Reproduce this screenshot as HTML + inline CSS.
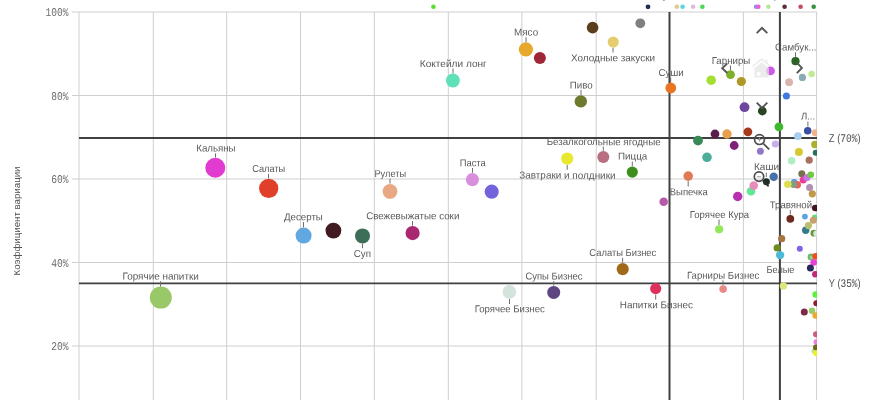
<!DOCTYPE html>
<html lang="ru"><head><meta charset="utf-8"><title>Scatter</title>
<style>html,body{margin:0;padding:0;background:#fff;overflow:hidden}svg{display:block;will-change:transform}.lb{font-family:"Liberation Sans","DejaVu Sans",sans-serif;font-size:10px;fill:#595959}.ax{font-family:"Liberation Mono","DejaVu Sans Mono",monospace;font-size:11.8px;fill:#6a6a6a}.mono{font-family:"Liberation Mono","DejaVu Sans Mono",monospace}</style></head><body>
<svg width="870" height="400" viewBox="0 0 870 400">
<rect width="870" height="400" fill="#fff"/>
<defs><clipPath id="cp"><rect x="79" y="0" width="738" height="400"/></clipPath></defs>
<g stroke="#cfcfcf" stroke-width="1">
<line x1="72" x2="817" y1="12.0" y2="12.0"/>
<line x1="72" x2="817" y1="95.5" y2="95.5"/>
<line x1="72" x2="817" y1="179.0" y2="179.0"/>
<line x1="72" x2="817" y1="262.5" y2="262.5"/>
<line x1="72" x2="817" y1="346.0" y2="346.0"/>
<line x1="153.3" x2="153.3" y1="12" y2="400"/>
<line x1="226.7" x2="226.7" y1="12" y2="400"/>
<line x1="300.5" x2="300.5" y1="12" y2="400"/>
<line x1="374.3" x2="374.3" y1="12" y2="400"/>
<line x1="448.3" x2="448.3" y1="12" y2="400"/>
<line x1="521.9" x2="521.9" y1="12" y2="400"/>
<line x1="596.2" x2="596.2" y1="12" y2="400"/>
<line x1="743.4" x2="743.4" y1="12" y2="400"/>
<line x1="79" x2="79" y1="12" y2="400"/>
<line x1="816.6" x2="816.6" y1="12" y2="400"/>
</g>
<text class="ax" transform="translate(45.60,16.30) rotate(0.03)" textLength="23.0" lengthAdjust="spacingAndGlyphs">100%</text>
<text class="ax" transform="translate(51.30,99.80) rotate(0.03)" textLength="17.3" lengthAdjust="spacingAndGlyphs">80%</text>
<text class="ax" transform="translate(51.30,183.30) rotate(0.03)" textLength="17.3" lengthAdjust="spacingAndGlyphs">60%</text>
<text class="ax" transform="translate(51.30,266.80) rotate(0.03)" textLength="17.3" lengthAdjust="spacingAndGlyphs">40%</text>
<text class="ax" transform="translate(51.30,350.30) rotate(0.03)" textLength="17.3" lengthAdjust="spacingAndGlyphs">20%</text>
<text class="lb" style="font-size:9.6px;fill:#505050" transform="translate(20.1,275.5) rotate(-90)" textLength="109" lengthAdjust="spacingAndGlyphs">Коэффициент вариации</text>
<rect x="663.2" y="0" width="1.4" height="0.7" fill="#595959"/><rect x="774.2" y="0" width="1.2" height="0.6" fill="#6a6a6a"/>
<circle cx="433.4" cy="6.8" r="2.3" fill="#5ae02e"/>
<circle cx="648" cy="6.8" r="2.4" fill="#1e2e50"/>
<circle cx="676.8" cy="6.8" r="2.3" fill="#e0cc8a"/>
<circle cx="682.6" cy="6.8" r="2.3" fill="#5cd6dc"/>
<circle cx="693.1" cy="6.8" r="2.3" fill="#e0b8dc"/>
<circle cx="702.4" cy="6.8" r="2.3" fill="#4cd855"/>
<circle cx="756.1" cy="6.8" r="2.3" fill="#9a8ae8"/>
<circle cx="758.3" cy="6.8" r="2.3" fill="#e860d8"/>
<circle cx="768.4" cy="6.8" r="2.3" fill="#b4e89a"/>
<circle cx="784.6" cy="6.8" r="2.3" fill="#5a3038"/>
<circle cx="800.6" cy="6.8" r="2.3" fill="#c84a6a"/>
<circle cx="813.7" cy="6.8" r="2.3" fill="#3a9040"/>
<g stroke="#404040">
<line x1="79" x2="817" y1="138" y2="138" stroke-width="2"/>
<line x1="79" x2="817" y1="283.4" y2="283.4" stroke-width="1.6"/>
<line x1="669.5" x2="669.5" y1="12" y2="400" stroke-width="2"/>
<line x1="779.9" x2="779.9" y1="12" y2="400" stroke-width="2"/>
</g>
<g clip-path="url(#cp)">
<circle cx="215.3" cy="167.8" r="10" fill="#e23bcf"/>
<circle cx="268.7" cy="188.4" r="9.6" fill="#e0402a"/>
<circle cx="160.8" cy="297.6" r="11" fill="#98c867"/>
<circle cx="452.9" cy="80.5" r="6.9" fill="#5ee0b8"/>
<circle cx="525.9" cy="49.4" r="7.1" fill="#e8a82c"/>
<circle cx="539.9" cy="57.9" r="6" fill="#9e2636"/>
<circle cx="592.6" cy="27.6" r="5.8" fill="#5a3e1e"/>
<circle cx="640.3" cy="23.3" r="4.9" fill="#808080"/>
<circle cx="613.2" cy="42.1" r="5.6" fill="#e6cc6e"/>
<circle cx="580.8" cy="101.4" r="6.2" fill="#6e7a2e"/>
<circle cx="670.8" cy="88" r="5.4" fill="#e87424"/>
<circle cx="730.5" cy="74.7" r="4.4" fill="#7eb02a"/>
<circle cx="711.2" cy="80.2" r="4.8" fill="#a4e030"/>
<circle cx="741.3" cy="81.5" r="4.6" fill="#b09828"/>
<circle cx="390" cy="191.4" r="7.4" fill="#e8a884"/>
<circle cx="472.4" cy="179.6" r="6.6" fill="#d890dc"/>
<circle cx="491.7" cy="191.7" r="7.1" fill="#7464dc"/>
<circle cx="303.6" cy="235.6" r="8" fill="#62a8e0"/>
<circle cx="333.4" cy="230.6" r="7.9" fill="#421a22"/>
<circle cx="362.5" cy="235.9" r="7.5" fill="#3c6e58"/>
<circle cx="412.6" cy="233.1" r="7.1" fill="#aa2870"/>
<circle cx="509.4" cy="291.9" r="6.8" fill="#d2e4dc"/>
<circle cx="553.7" cy="292.4" r="6.5" fill="#5e4682"/>
<circle cx="622.7" cy="269.1" r="6.1" fill="#a06a1a"/>
<circle cx="655.7" cy="288.6" r="5.6" fill="#e0305e"/>
<circle cx="603.3" cy="157.1" r="6" fill="#b87080"/>
<circle cx="567.2" cy="158.6" r="6.1" fill="#e8e82e"/>
<circle cx="632.3" cy="172.1" r="5.6" fill="#3e8e1e"/>
<circle cx="688.2" cy="176.1" r="4.8" fill="#e07a54"/>
<circle cx="663.7" cy="201.7" r="4.3" fill="#b858a8"/>
<circle cx="698" cy="140.6" r="4.9" fill="#3a8a58"/>
<circle cx="707" cy="157.3" r="4.8" fill="#4cae9a"/>
<circle cx="715" cy="134" r="4.4" fill="#5a1e4e"/>
<circle cx="727" cy="134" r="4.7" fill="#e8a04e"/>
<circle cx="747.9" cy="131.8" r="4.4" fill="#a83a1c"/>
<circle cx="734.2" cy="145.5" r="4.4" fill="#7e2278"/>
<circle cx="775.4" cy="144" r="3.6" fill="#c4b0ec"/>
<circle cx="760.4" cy="151.2" r="3.5" fill="#9078c8"/>
<circle cx="744.5" cy="107.2" r="4.9" fill="#6e46a0"/>
<circle cx="762.3" cy="111" r="4.4" fill="#2a4420"/>
<circle cx="778.9" cy="126.8" r="4.4" fill="#3eb82e"/>
<circle cx="770.5" cy="70.9" r="4.4" fill="#cc5ae6"/>
<circle cx="795.5" cy="61.2" r="4.1" fill="#2a6422"/>
<circle cx="789.1" cy="82.2" r="3.9" fill="#dab4ae"/>
<circle cx="802.4" cy="77.4" r="3.6" fill="#8aaab4"/>
<circle cx="811.6" cy="74" r="3.2" fill="#c0ec90"/>
<circle cx="786.4" cy="95.9" r="3.5" fill="#3e78e0"/>
<circle cx="807.7" cy="130.7" r="3.8" fill="#3a50a0"/>
<circle cx="815.3" cy="132.8" r="3.5" fill="#f0b48c"/>
<circle cx="797.9" cy="136.1" r="3.9" fill="#a8cef0"/>
<circle cx="798.9" cy="152" r="4" fill="#d8c830"/>
<circle cx="814.9" cy="144.5" r="3.7" fill="#a8b030"/>
<circle cx="815.7" cy="152.8" r="3" fill="#2e6e5c"/>
<circle cx="791.6" cy="160.8" r="3.8" fill="#b0ecc4"/>
<circle cx="809.2" cy="160.2" r="3.6" fill="#a87060"/>
<circle cx="801.8" cy="173.7" r="3.5" fill="#78704a"/>
<circle cx="803.2" cy="179.9" r="3.5" fill="#e8409a"/>
<circle cx="807" cy="177.5" r="3.5" fill="#c478e8"/>
<circle cx="810.8" cy="174.8" r="3.3" fill="#6ecc3c"/>
<circle cx="773.7" cy="176.8" r="4.2" fill="#4672a8"/>
<circle cx="766.4" cy="181.7" r="3.5" fill="#1e2e26"/>
<circle cx="751" cy="191.2" r="4.3" fill="#62e894"/>
<circle cx="753.7" cy="185.6" r="4.3" fill="#e88cbc"/>
<circle cx="737.7" cy="196.5" r="4.7" fill="#b630b0"/>
<circle cx="794.2" cy="182.2" r="3.2" fill="#5a9ae0"/>
<circle cx="797.2" cy="184.8" r="3.8" fill="#e8605a"/>
<circle cx="793.6" cy="184.6" r="3.5" fill="#7ea080"/>
<circle cx="787.8" cy="184.2" r="3.8" fill="#dce04e"/>
<circle cx="809.6" cy="187.5" r="3.5" fill="#b090b8"/>
<circle cx="812.3" cy="193.8" r="3.6" fill="#c09a4a"/>
<circle cx="815.3" cy="208" r="3.3" fill="#3e1420"/>
<circle cx="790.3" cy="218.8" r="3.9" fill="#6e2a1c"/>
<circle cx="804.9" cy="216.6" r="2.9" fill="#5aa4e0"/>
<circle cx="815" cy="217.8" r="3.2" fill="#60d880"/>
<circle cx="813.3" cy="220.3" r="3.5" fill="#c8a070"/>
<circle cx="805.7" cy="230.3" r="3.7" fill="#357a88"/>
<circle cx="808.4" cy="225.6" r="3.6" fill="#b8c070"/>
<circle cx="813.9" cy="233.2" r="3.4" fill="#6a9a3a"/>
<circle cx="816.3" cy="233.4" r="3" fill="#d8e8e0"/>
<circle cx="719.1" cy="229.3" r="4.1" fill="#92e858"/>
<circle cx="781.7" cy="238.7" r="3.6" fill="#a87440"/>
<circle cx="777.2" cy="247.9" r="3.6" fill="#6e8a1e"/>
<circle cx="780.1" cy="255.1" r="4.2" fill="#4cbad4"/>
<circle cx="799.8" cy="248.7" r="3" fill="#7e62e8"/>
<circle cx="811" cy="257" r="3.4" fill="#6ab868"/>
<circle cx="811.5" cy="257.5" r="1.8" fill="#9ad89a"/>
<circle cx="815.7" cy="256.3" r="3.4" fill="#f05020"/>
<circle cx="813.7" cy="262.5" r="3.3" fill="#e840d8"/>
<circle cx="810.4" cy="268" r="3.5" fill="#2a2a5c"/>
<circle cx="815.3" cy="274.2" r="3.2" fill="#c02a7a"/>
<circle cx="723.1" cy="289.1" r="3.8" fill="#e88a84"/>
<circle cx="783.4" cy="286" r="3.7" fill="#dce67a"/>
<circle cx="815.7" cy="294.5" r="3.3" fill="#5cf03c"/>
<circle cx="816.3" cy="303.3" r="3" fill="#8e1e30"/>
<circle cx="804.3" cy="311.9" r="3.5" fill="#80284a"/>
<circle cx="812" cy="310.8" r="3.3" fill="#9acc6a"/>
<circle cx="815.7" cy="315.5" r="3.3" fill="#f0a830"/>
<circle cx="816" cy="334.3" r="3" fill="#c8607a"/>
<circle cx="816.3" cy="342.1" r="2.8" fill="#e880e0"/>
<circle cx="814.5" cy="351" r="3" fill="#b8e0a0"/>
<circle cx="816" cy="347.4" r="3" fill="#6e6a1e"/>
<circle cx="816.2" cy="353.3" r="3" fill="#f0f020"/>
</g>
<g stroke="#6e6e6e" stroke-width="1">
<line x1="215.5" x2="215.5" y1="153.3" y2="157.5"/>
<line x1="268.5" x2="268.5" y1="173.9" y2="178.3"/>
<line x1="160.5" x2="160.5" y1="281.3" y2="286.5"/>
<line x1="453" x2="453" y1="68.5" y2="73.3"/>
<line x1="526" x2="526" y1="37.3" y2="42"/>
<line x1="613" x2="613" y1="48" y2="52.5"/>
<line x1="581" x2="581" y1="90" y2="95"/>
<line x1="670.7" x2="670.7" y1="77.5" y2="82.4"/>
<line x1="730.5" x2="730.5" y1="65.5" y2="70"/>
<line x1="795.5" x2="795.5" y1="52.3" y2="56.9"/>
<line x1="807.9" x2="807.9" y1="121.5" y2="126.6"/>
<line x1="766.3" x2="766.3" y1="172.6" y2="177"/>
<line x1="790.3" x2="790.3" y1="210" y2="214.6"/>
<line x1="719" x2="719" y1="219.6" y2="225"/>
<line x1="723" x2="723" y1="280.3" y2="285"/>
<line x1="390" x2="390" y1="178.7" y2="183.6"/>
<line x1="472.5" x2="472.5" y1="168" y2="172.7"/>
<line x1="412.5" x2="412.5" y1="221" y2="225.7"/>
<line x1="303.5" x2="303.5" y1="222" y2="227.3"/>
<line x1="362.5" x2="362.5" y1="243.7" y2="248.2"/>
<line x1="509.5" x2="509.5" y1="299" y2="304"/>
<line x1="553.7" x2="553.7" y1="281.2" y2="285.7"/>
<line x1="622.6" x2="622.6" y1="257.8" y2="262.7"/>
<line x1="655.7" x2="655.7" y1="294.6" y2="299.6"/>
<line x1="603.3" x2="603.3" y1="146.5" y2="150.8"/>
<line x1="567.2" x2="567.2" y1="165" y2="169.8"/>
<line x1="632.3" x2="632.3" y1="161.5" y2="166.2"/>
<line x1="688.2" x2="688.2" y1="181.2" y2="186.5"/>
</g>
<text class="lb" transform="translate(196.25,151.50) rotate(0.03)" textLength="39.3" lengthAdjust="spacingAndGlyphs">Кальяны</text>
<text class="lb" transform="translate(252.15,172.10) rotate(0.03)" textLength="33.1" lengthAdjust="spacingAndGlyphs">Салаты</text>
<text class="lb" transform="translate(122.45,279.60) rotate(0.03)" textLength="76.4" lengthAdjust="spacingAndGlyphs">Горячие напитки</text>
<text class="lb" transform="translate(419.85,66.90) rotate(0.03)" textLength="66.9" lengthAdjust="spacingAndGlyphs">Коктейли лонг</text>
<text class="lb" transform="translate(514.05,35.60) rotate(0.03)" textLength="24.1" lengthAdjust="spacingAndGlyphs">Мясо</text>
<text class="lb" transform="translate(571.05,61.20) rotate(0.03)" textLength="84.0" lengthAdjust="spacingAndGlyphs">Холодные закуски</text>
<text class="lb" transform="translate(569.75,88.50) rotate(0.03)" textLength="23.0" lengthAdjust="spacingAndGlyphs">Пиво</text>
<text class="lb" transform="translate(658.55,75.90) rotate(0.03)" textLength="25.1" lengthAdjust="spacingAndGlyphs">Суши</text>
<text class="lb" transform="translate(711.65,63.90) rotate(0.03)" textLength="38.6" lengthAdjust="spacingAndGlyphs">Гарниры</text>
<text class="lb" transform="translate(774.95,50.40) rotate(0.03)" textLength="41.6" lengthAdjust="spacingAndGlyphs">Самбук...</text>
<text class="lb" transform="translate(800.95,119.40) rotate(0.03)" textLength="14.2" lengthAdjust="spacingAndGlyphs">Л...</text>
<text class="lb" transform="translate(754.05,170.00) rotate(0.03)" textLength="24.9" lengthAdjust="spacingAndGlyphs">Каши</text>
<text class="lb" transform="translate(769.75,208.20) rotate(0.03)" textLength="42.3" lengthAdjust="spacingAndGlyphs">Травяной</text>
<text class="lb" transform="translate(689.75,218.00) rotate(0.03)" textLength="59.3" lengthAdjust="spacingAndGlyphs">Горячее Кура</text>
<text class="lb" transform="translate(766.55,272.50) rotate(0.03)" textLength="27.9" lengthAdjust="spacingAndGlyphs">Белые</text>
<text class="lb" transform="translate(686.95,278.80) rotate(0.03)" textLength="72.4" lengthAdjust="spacingAndGlyphs">Гарниры Бизнес</text>
<text class="lb" transform="translate(374.45,176.90) rotate(0.03)" textLength="31.6" lengthAdjust="spacingAndGlyphs">Рулеты</text>
<text class="lb" transform="translate(459.65,166.30) rotate(0.03)" textLength="26.1" lengthAdjust="spacingAndGlyphs">Паста</text>
<text class="lb" transform="translate(366.15,219.20) rotate(0.03)" textLength="93.2" lengthAdjust="spacingAndGlyphs">Свежевыжатые соки</text>
<text class="lb" transform="translate(284.05,220.30) rotate(0.03)" textLength="38.8" lengthAdjust="spacingAndGlyphs">Десерты</text>
<text class="lb" transform="translate(353.75,256.90) rotate(0.03)" textLength="17.3" lengthAdjust="spacingAndGlyphs">Суп</text>
<text class="lb" transform="translate(474.75,312.20) rotate(0.03)" textLength="70.0" lengthAdjust="spacingAndGlyphs">Горячее Бизнес</text>
<text class="lb" transform="translate(525.45,279.40) rotate(0.03)" textLength="57.1" lengthAdjust="spacingAndGlyphs">Супы Бизнес</text>
<text class="lb" transform="translate(589.35,256.00) rotate(0.03)" textLength="66.9" lengthAdjust="spacingAndGlyphs">Салаты Бизнес</text>
<text class="lb" transform="translate(619.75,308.20) rotate(0.03)" textLength="73.2" lengthAdjust="spacingAndGlyphs">Напитки Бизнес</text>
<text class="lb" transform="translate(546.65,145.10) rotate(0.03)" textLength="114.0" lengthAdjust="spacingAndGlyphs">Безалкогольные ягодные</text>
<text class="lb" transform="translate(519.25,178.60) rotate(0.03)" textLength="96.3" lengthAdjust="spacingAndGlyphs">Завтраки и полдники</text>
<text class="lb" transform="translate(618.05,159.60) rotate(0.03)" textLength="29.3" lengthAdjust="spacingAndGlyphs">Пицца</text>
<text class="lb" transform="translate(669.65,195.30) rotate(0.03)" textLength="38.1" lengthAdjust="spacingAndGlyphs">Выпечка</text>
<text class="lb" style="font-size:11.3px;fill:#505050" transform="translate(828.85,141.9) rotate(0.03)" textLength="31.8" lengthAdjust="spacingAndGlyphs">Z (<tspan class="mono" style="font-size:11.6px">70%</tspan>)</text>
<text class="lb" style="font-size:11.3px;fill:#505050" transform="translate(828.85,287.4) rotate(0.03)" textLength="31.8" lengthAdjust="spacingAndGlyphs">Y (<tspan class="mono" style="font-size:11.6px">35%</tspan>)</text>
<g fill="none" stroke="#555555" stroke-width="1.9" stroke-linecap="butt" stroke-linejoin="miter">
<polyline points="756.7,33.2 762,27.8 767.3,33.2"/>
<polyline points="756.7,102.6 762,108 767.3,102.6"/>
<polyline points="727.3,63.4 722.2,68.2 727.3,73"/>
<polyline points="796.8,62.7 801.9,67.9 796.8,73.1"/>
</g>
<g opacity="0.72"><polyline points="752.6,66.4 761.7,59.2 770.3,66.4" fill="none" stroke="#e6e6e6" stroke-width="1.7"/><rect x="765.7" y="59.6" width="1.9" height="4.2" fill="#e6e6e6"/><path d="M754.4,77.6 L754.4,68.0 L761.7,62.2 L768.9,68.0 L768.9,77.6 Z M756.9,72.2 L756.9,75.4 L760.4,75.4 L760.4,72.2 Z" fill="#e6e6e6" fill-rule="evenodd"/></g>
<g fill="none" stroke="#4d4d4d" stroke-width="1.7">
<circle cx="759.5" cy="139.6" r="4.9"/><line x1="763.4" y1="143.7" x2="769.2" y2="149.4"/>
<line x1="757.5" y1="139.6" x2="761.5" y2="139.6" stroke-width="1" stroke="#9a9a9a"/><line x1="759.5" y1="137.6" x2="759.5" y2="141.6" stroke-width="1" stroke="#9a9a9a"/>
<circle cx="759" cy="176.6" r="4.7"/><line x1="762.8" y1="180.6" x2="768.6" y2="186.3" stroke="#2a322c"/>
<line x1="757" y1="176.8" x2="761" y2="176.8" stroke-width="1" stroke="#9a9a9a"/>
</g>
</svg></body></html>
